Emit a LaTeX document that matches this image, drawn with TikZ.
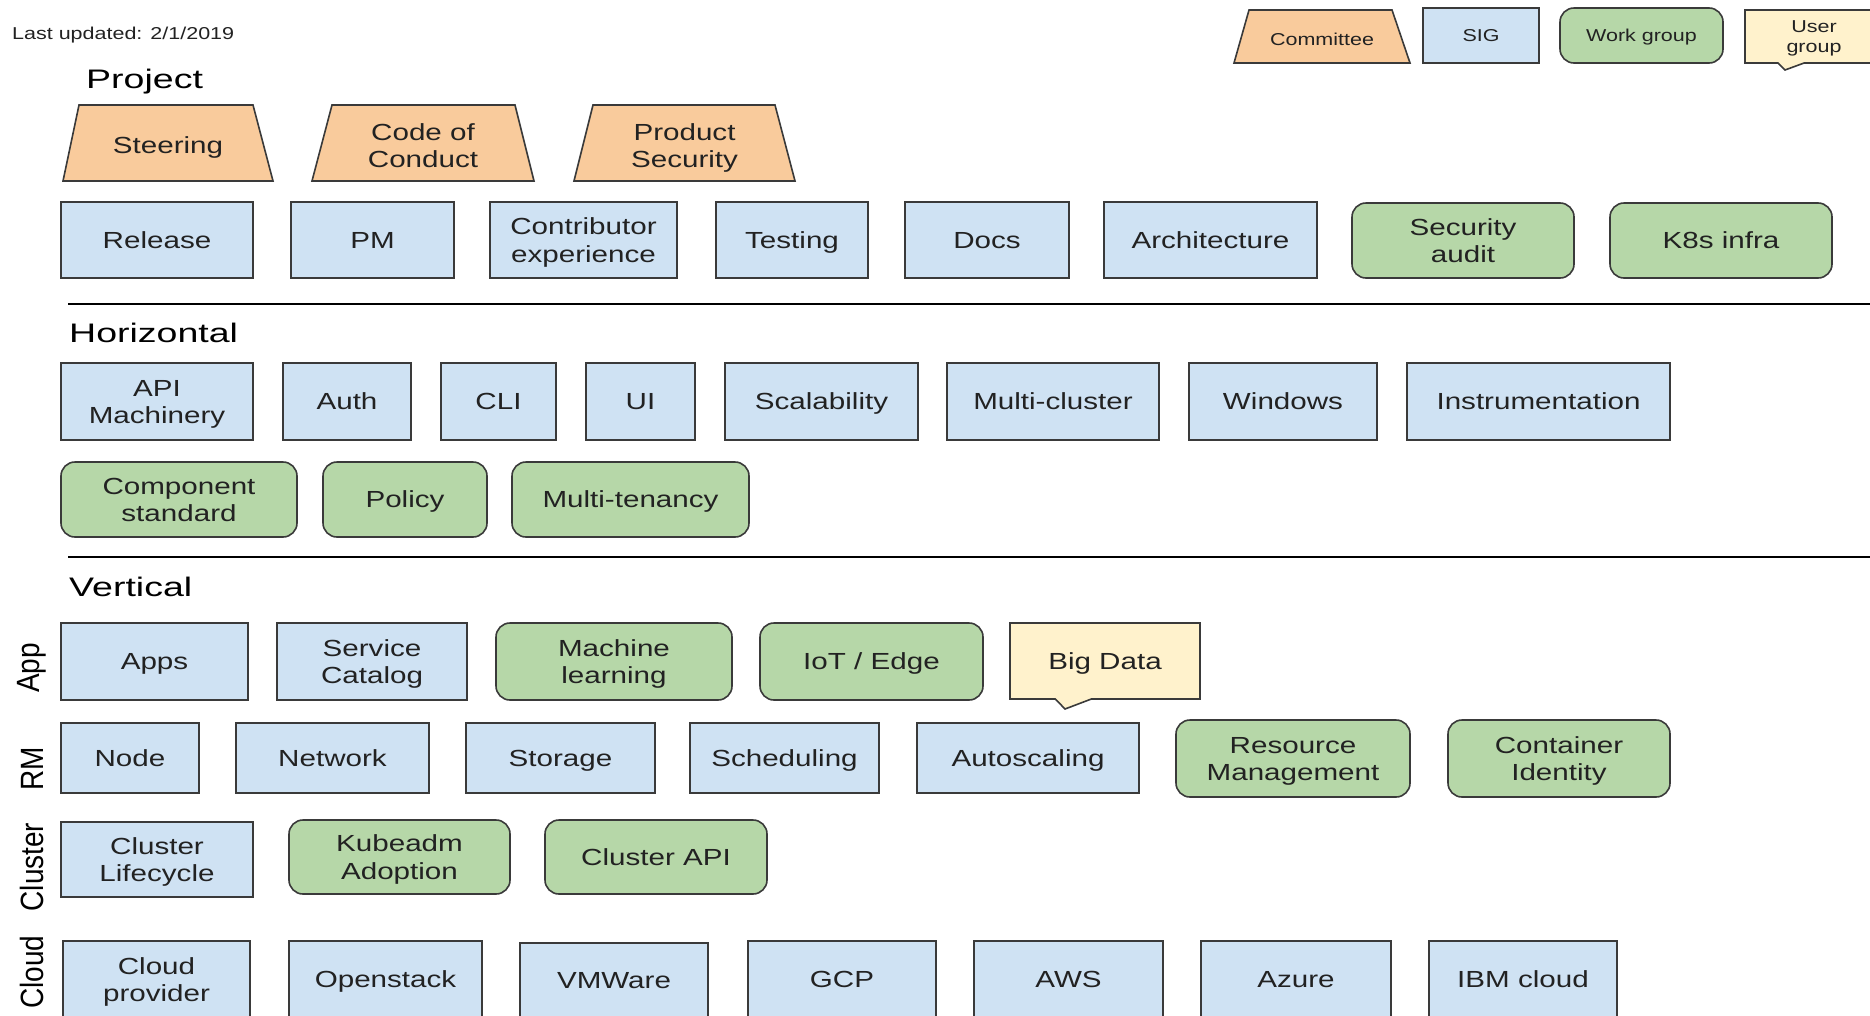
\documentclass[tikz,border=0pt]{standalone}
\usepackage{graphicx}
\usepackage{fontspec}
\setmainfont{Liberation Sans}
\newfontfamily\wfont[FakeStretch=1.27]{Liberation Sans}
\newfontfamily\hfont[FakeStretch=1.4]{Liberation Sans}
\newfontfamily\lfont[FakeStretch=1.25]{Liberation Sans}
\usetikzlibrary{shapes.callouts}
\definecolor{sigc}{HTML}{CFE2F3}
\definecolor{wgc}{HTML}{B6D7A8}
\definecolor{cmc}{HTML}{F9CB9C}
\definecolor{ugc}{HTML}{FFF2CC}
\definecolor{bd}{HTML}{3A3A3A}
\definecolor{tx}{HTML}{222222}
\newcommand\bxfont{\wfont\fontsize{23.3}{27.3}\selectfont}
\newcommand\lgfont{\lfont\fontsize{17.2}{20}\selectfont}
\newcommand\hdfont{\hfont\fontsize{26.8}{30}\selectfont}
\newcommand\sdfont{\fontsize{28}{30}\selectfont}
\newcommand\hs{\rule{0pt}{0.93em}}
\newcommand\ds{\rule[-0.21em]{0pt}{0.21em}}
\newcommand\sidelab[1]{\scalebox{1}[1.15]{#1}}
\newcommand\bx[7]{\node[#2, minimum width={#5-#3}, minimum height={#6-#4}] (#1) at ({(#3+#5)/2},{(#4+#6)/2}) {\hs #7\ds};}
% trapezoid: name, font, x bottom-left, x top-left, x top-right, x bottom-right, y top, y bottom, text
\newcommand\trap[9]{%
  \filldraw[cmtpath] (#3,#8) -- (#4,#7) -- (#5,#7) -- (#6,#8) -- cycle;
  \node[cmttext, font=#2] (#1) at ({(#3+#6)/2},{(#7+#8)/2+2.5}) {\hs #9\ds};}
\tikzset{
  basebox/.style={draw=bd, line width=1.6pt, inner sep=0pt, outer sep=0pt, align=center, font=\bxfont, text=tx},
  sigbox/.style={basebox, fill=sigc},
  wgbox/.style={basebox, fill=wgc, rounded corners=14pt},
  cmtpath/.style={draw=bd, fill=cmc, line width=1.6pt},
  cmttext/.style={inner sep=0pt, align=center, text=tx},
  ugbox/.style={basebox, fill=ugc, rectangle callout},
  headtxt/.style={anchor=base west, inner sep=0pt, font=\hdfont, text=black},
  sidetxt/.style={rotate=90, inner sep=0pt, font=\sdfont, text=black},
  sepline/.style={line width=1.5pt, draw=black}
}
\begin{document}
\begin{tikzpicture}[x=1pt,y=-1pt]
\path[use as bounding box] (0,0) rectangle (1870,1015);
\clip (0,0) rectangle (1870,1015);
\fill[white] (0,0) rectangle (1870,1015);
% legend
\node[anchor=base west, inner sep=0pt, font=\lgfont, text=tx] (upd) at (12,39) {Last updated: 2/1/2019};
\trap{lcm}{\lgfont}{1234}{1249}{1392}{1410}{10}{63}{Committee}
\bx{lsig}{sigbox,font=\lgfont}{1423}{8}{1539}{63}{SIG}
\bx{lwg}{wgbox,font=\lgfont}{1560}{8}{1723}{63}{Work group}
\node[ugbox, font=\lgfont, minimum width=138, minimum height=53, callout absolute pointer={(1785,70)}, callout pointer width=26] (lug) at (1814,36.5) {\hs User\\group\ds};
% project
\node[headtxt] (hproj) at (86,88) {Project};
\trap{steer}{\bxfont}{63}{79}{253}{273}{105}{181}{Steering}
\trap{coc}{\bxfont}{312}{332}{515}{534}{105}{181}{Code of\\Conduct}
\trap{psec}{\bxfont}{574}{593}{775}{795}{105}{181}{Product\\Security}
\bx{rel}{sigbox}{61}{202}{253}{278}{Release}
\bx{pm}{sigbox}{291}{202}{454}{278}{PM}
\bx{cex}{sigbox}{490}{202}{677}{278}{Contributor\\experience}
\bx{test}{sigbox}{716}{202}{868}{278}{Testing}
\bx{docs}{sigbox}{905}{202}{1069}{278}{Docs}
\bx{arch}{sigbox}{1104}{202}{1317}{278}{Architecture}
\bx{saud}{wgbox}{1352}{203}{1574}{278}{Security\\audit}
\bx{k8s}{wgbox}{1610}{203}{1832}{278}{K8s infra}
\coordinate (s1a) at (68,304);
\coordinate (s1b) at (1875,304);
\draw[sepline] (s1a) -- (s1b);
% horizontal
\node[headtxt] (hhor) at (69,342) {Horizontal};
\bx{api}{sigbox}{61}{363}{253}{440}{API\\Machinery}
\bx{auth}{sigbox}{283}{363}{411}{440}{Auth}
\bx{cli}{sigbox}{441}{363}{556}{440}{CLI}
\bx{ui}{sigbox}{586}{363}{695}{440}{UI}
\bx{scal}{sigbox}{725}{363}{918}{440}{Scalability}
\bx{mcl}{sigbox}{947}{363}{1159}{440}{Multi-cluster}
\bx{win}{sigbox}{1189}{363}{1377}{440}{Windows}
\bx{inst}{sigbox}{1407}{363}{1670}{440}{Instrumentation}
\bx{comp}{wgbox}{61}{462}{297}{537}{Component\\standard}
\bx{pol}{wgbox}{323}{462}{487}{537}{Policy}
\bx{mten}{wgbox}{512}{462}{749}{537}{Multi-tenancy}
\coordinate (s2a) at (68,557);
\coordinate (s2b) at (1875,557);
\draw[sepline] (s2a) -- (s2b);
% vertical
\node[headtxt] (hver) at (69,596) {Vertical};
\node[sidetxt] (lapp) at (32,668) {\sidelab{App}};
\node[sidetxt] (lrm) at (32,769) {\sidelab{RM}};
\node[sidetxt] (lclu) at (32,867) {\sidelab{Cluster}};
\node[sidetxt] (lclo) at (32,972) {\sidelab{Cloud}};
\bx{apps}{sigbox}{61}{623}{248}{700}{Apps}
\bx{scat}{sigbox}{277}{623}{467}{700}{Service\\Catalog}
\bx{ml}{wgbox}{496}{623}{732}{700}{Machine\\learning}
\bx{iot}{wgbox}{760}{623}{983}{700}{IoT / Edge}
\node[ugbox, minimum width=190, minimum height=76, callout absolute pointer={(1065,709)}, callout pointer width=36] (bigd) at (1105,661) {\hs Big Data\ds};
\bx{node}{sigbox}{61}{723}{199}{793}{Node}
\bx{net}{sigbox}{236}{723}{429}{793}{Network}
\bx{stor}{sigbox}{466}{723}{655}{793}{Storage}
\bx{sched}{sigbox}{690}{723}{879}{793}{Scheduling}
\bx{auto}{sigbox}{917}{723}{1139}{793}{Autoscaling}
\bx{resm}{wgbox}{1176}{720}{1410}{797}{Resource\\Management}
\bx{cid}{wgbox}{1448}{720}{1670}{797}{Container\\Identity}
\bx{clc}{sigbox}{61}{822}{253}{897}{Cluster\\Lifecycle}
\bx{kad}{wgbox}{289}{820}{510}{894}{Kubeadm\\Adoption}
\bx{capi}{wgbox}{545}{820}{767}{894}{Cluster API}
\bx{cpr}{sigbox}{63}{941}{250}{1018}{Cloud\\provider}
\bx{ostk}{sigbox}{289}{941}{482}{1018}{Openstack}
\bx{vmw}{sigbox}{520}{943}{708}{1018}{VMWare}
\bx{gcp}{sigbox}{748}{941}{936}{1018}{GCP}
\bx{aws}{sigbox}{974}{941}{1163}{1018}{AWS}
\bx{azure}{sigbox}{1201}{941}{1391}{1018}{Azure}
\bx{ibm}{sigbox}{1429}{941}{1617}{1018}{IBM cloud}
\end{tikzpicture}
\end{document}
